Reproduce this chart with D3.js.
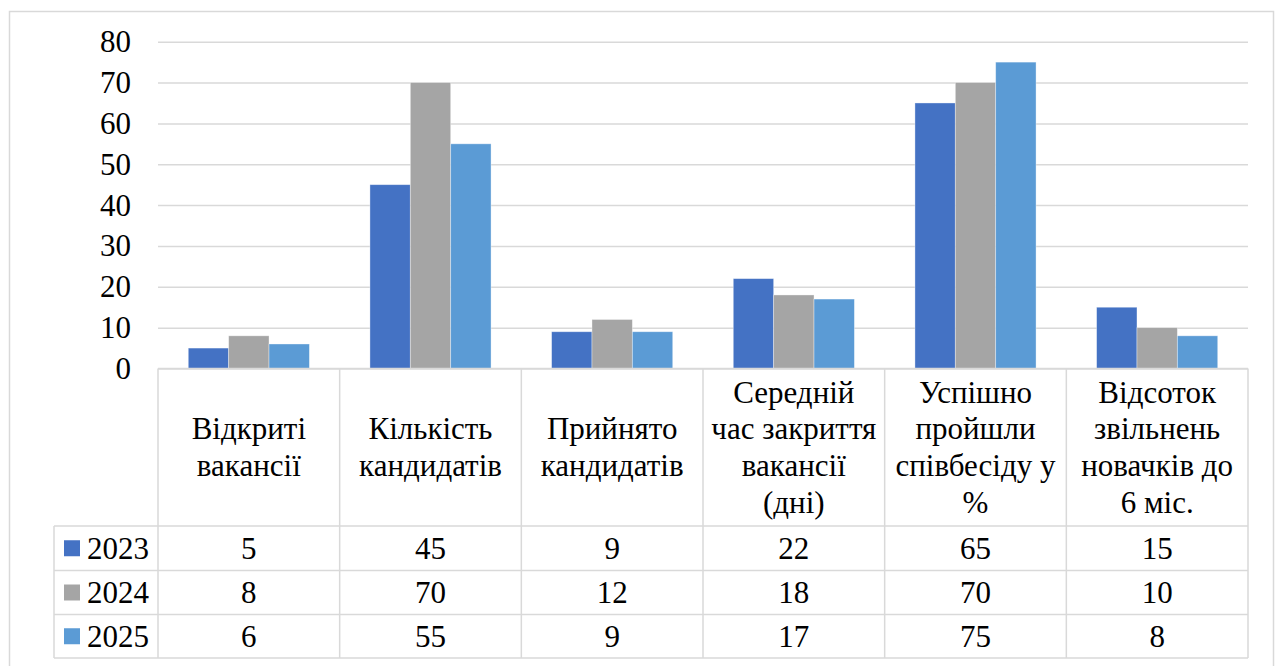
<!DOCTYPE html>
<html>
<head>
<meta charset="utf-8">
<script src="https://cdn.jsdelivr.net/npm/d3@7"></script>
<style>
  html, body { margin: 0; padding: 0; background: #fff; }
  svg { display: block; }
</style>
</head>
<body>
<svg id="chart" width="1278" height="666"></svg>
<script>
// Recruitment indicators by year
const categories = [
  "Відкриті вакансії",
  "Кількість кандидатів",
  "Прийнято кандидатів",
  "Середній час закриття вакансії (дні)",
  "Успішно пройшли співбесіду у %",
  "Відсоток звільнень новачків до 6 міс."
];
// line breaks used in the data-table header cells
const categoryLines = [
  ["Відкриті", "вакансії"],
  ["Кількість", "кандидатів"],
  ["Прийнято", "кандидатів"],
  ["Середній", "час закриття", "вакансії", "(дні)"],
  ["Успішно", "пройшли", "співбесіду у", "%"],
  ["Відсоток", "звільнень", "новачків до", "6 міс."]
];
const seriesNames = ["2023", "2024", "2025"];
const values2023 = [5, 45, 9, 22, 65, 15];
const values2024 = [8, 70, 12, 18, 70, 10];
const values2025 = [6, 55, 9, 17, 75, 8];
const yTicks = [0, 10, 20, 30, 40, 50, 60, 70, 80];

const seriesValues = [values2023, values2024, values2025];
const colors = ["#4472C4", "#A5A5A5", "#5B9BD5"];

const gridColor = "#D9D9D9";

const svg = d3.select("#chart");

// every label is set in the serif face used by the table
const styleText = sel => sel
  .style("font-family", "'Times New Roman'")
  .style("font-size", "31px")
  .style("fill", "#000");

// outer chart frame
svg.append("rect")
  .attr("x", 9.5).attr("y", 11.5)
  .attr("width", 1264).attr("height", 666)
  .attr("fill", "#fff").attr("stroke", gridColor).attr("stroke-width", 1.5);

const plotLeft = 158, plotRight = 1248;
const plotTop = 41.7, plotBottom = 368.5;

const x0 = d3.scaleBand().domain(d3.range(categories.length))
  .range([plotLeft, plotRight]).paddingInner(0).paddingOuter(0);
// gap width 150% of a bar -> 3 bars + 1.5 bar of gap per category
const groupInner = x0.bandwidth() * 3 / 4.5;
const x1 = d3.scaleBand().domain(d3.range(seriesNames.length))
  .range([0, groupInner]).padding(0);
const y = d3.scaleLinear().domain([0, 80]).range([plotBottom, plotTop]);

// gridlines
const yAxis = d3.axisLeft(y).tickValues(yTicks).tickSize(-(plotRight - plotLeft)).tickFormat("");
const gAxis = svg.append("g").attr("transform", `translate(${plotLeft},0)`).call(yAxis);
gAxis.select(".domain").remove();
gAxis.selectAll(".tick line").attr("stroke", gridColor).attr("stroke-width", 1.5);
gAxis.selectAll(".tick text").remove();

// value axis labels
svg.append("g").selectAll("text")
  .data(yTicks)
  .join("text")
  .attr("x", plotLeft - 27)
  .attr("y", d => y(d))
  .attr("dy", "0.34em")
  .attr("text-anchor", "end")
  .call(styleText)
  .text(d => d);

// bars
const groups = svg.append("g").selectAll("g")
  .data(categories.map((c, i) => i))
  .join("g")
  .attr("transform", i => `translate(${x0(i) + (x0.bandwidth() - groupInner) / 2},0)`);

groups.selectAll("rect")
  .data(i => seriesValues.map((vals, s) => ({ s, v: vals[i] })))
  .join("rect")
  .attr("x", d => x1(d.s))
  .attr("y", d => y(d.v))
  .attr("width", x1.bandwidth())
  .attr("height", d => y(0) - y(d.v))
  .attr("fill", d => colors[d.s])
  .attr("stroke", "#fff").attr("stroke-opacity", 0.45).attr("stroke-width", 0.8);

// data table
const headerTop = plotBottom, headerBottom = 526;
const rowEdges = [526, 570.5, 614.5, 658];
const legendLeft = 54;
const lineH = 36.7;

const table = svg.append("g");
const line = (xa, ya, xb, yb) => table.append("line")
  .attr("x1", xa).attr("y1", ya).attr("x2", xb).attr("y2", yb)
  .attr("stroke", gridColor).attr("stroke-width", 1.5);

// horizontal lines
line(plotLeft, headerTop, plotRight, headerTop);
rowEdges.forEach(r => line(legendLeft, r, plotRight, r));
// vertical lines
d3.range(categories.length + 1).forEach(i => {
  const xx = i < categories.length ? x0(i) : plotRight;
  line(xx, headerTop, xx, rowEdges[rowEdges.length - 1]);
});
line(legendLeft, rowEdges[0], legendLeft, rowEdges[rowEdges.length - 1]);

// header text, one text element per line
categoryLines.forEach((lines, i) => {
  const cx = x0(i) + x0.bandwidth() / 2;
  const cy = (headerTop + headerBottom) / 2;
  lines.forEach((ln, k) => {
    table.append("text")
      .attr("x", cx)
      .attr("y", cy + (k - (lines.length - 1) / 2) * lineH)
      .attr("dy", "0.34em")
      .attr("text-anchor", "middle")
      .call(styleText)
      .text(ln);
  });
});

// value rows with legend keys
seriesNames.forEach((name, s) => {
  const cy = (rowEdges[s] + rowEdges[s + 1]) / 2;
  table.append("rect")
    .attr("x", 64).attr("y", cy - 8)
    .attr("width", 16).attr("height", 16)
    .attr("fill", colors[s]);
  table.append("text")
    .attr("x", 87).attr("y", cy).attr("dy", "0.34em")
    .call(styleText)
    .text(name);
  seriesValues[s].forEach((v, i) => {
    table.append("text")
      .attr("x", x0(i) + x0.bandwidth() / 2)
      .attr("y", cy).attr("dy", "0.34em")
      .attr("text-anchor", "middle")
      .call(styleText)
      .text(v);
  });
});
</script>
</body>
</html>
